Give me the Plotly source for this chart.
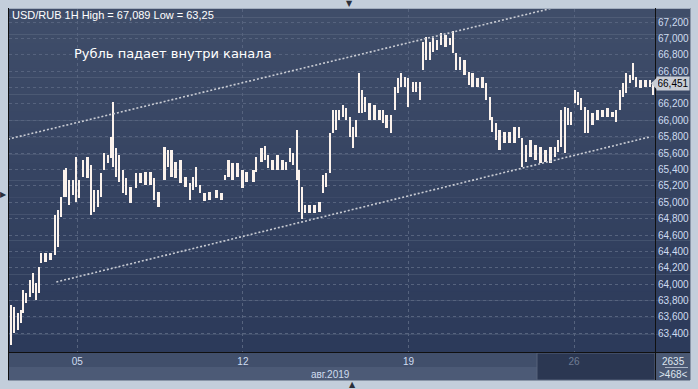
import numpy as np
import plotly.graph_objects as go

# ---------------- data ----------------
# hour index of each sampled group of 1H candles (0 = left edge of view)
hours = [1.8, 4.0, 6.5, 8.7, 10.5, 12.7, 15.6, 17.8, 19.6, 21.7, 23.6, 26.4, 30.1, 33.3, 35.5, 37.7, 39.9, 41.7, 43.8, 46.4,
         48.9, 51.1, 53.6, 56.9, 59.8, 62.0, 64.5, 67.0, 69.2, 71.7, 73.9, 75.7, 77.9, 80.1, 82.6, 85.1, 88.0, 92.0, 95.3, 98.9,
         102.5, 105.4, 108.3, 112.7, 115.2, 117.8, 120.7, 124.3, 127.9, 131.2, 133.7, 135.9, 138.4, 141.7, 145.3, 150.0, 154.0, 156.5, 159.1, 162.0,
         165.6, 169.2, 172.1, 177.2, 179.3, 183.0, 185.5, 188.0, 190.9, 194.6, 198.2, 201.1, 203.6, 206.2, 208.7, 210.5, 212.3, 214.5, 217.8, 221.4,
         225.0, 227.9, 230.1, 232.6, 235.1, 237.0, 239.5, 242.4, 244.6, 247.1, 249.6, 251.4, 254.0, 255.8, 258.0, 261.2, 264.9, 268.5, 271.4, 273.6,
         276.8, 279.7, 282.2, 284.4, 287.0, 289.5, 292.4, 295.3, 297.8, 300.4, 302.5, 305.1, 307.6, 310.5, 313.4, 316.3, 319.6, 322.1, 324.3, 326.8,
         330.1, 333.0, 335.9, 339.5, 343.1, 346.0, 348.6, 350.4, 352.9, 355.4, 359.1, 362.7, 366.3, 369.9, 372.1, 374.3, 377.9, 381.5, 385.1, 388.8,
         392.4, 395.7, 398.2, 400.4, 402.9, 405.4, 407.6, 410.1, 412.7, 414.9, 417.4, 419.9, 422.8, 426.4, 430.1, 433.7, 437.3, 439.9, 442.8, 445.3,
         447.5, 450.0, 452.5, 454.7, 457.6, 461.2, 464.5, 467.0]

highs = [63.742, 63.717, 63.644, 63.681, 63.925, 63.889, 64.047, 64.133, 64.011, 64.206,
         64.377, 64.377, 64.377, 64.842, 64.903, 65.061, 65.391, 65.416, 65.269, 65.269,
         65.550, 65.269, 65.514, 65.550, 65.453, 65.147, 65.147, 65.355, 65.599, 65.575,
         65.795, 66.222, 65.660, 65.575, 65.392, 65.294, 65.184, 65.355, 65.355, 65.367,
         65.367, 65.294, 65.123, 65.673, 65.636, 65.636, 65.489, 65.514, 65.306, 65.233,
         65.306, 65.428, 65.208, 65.110, 65.123, 65.147, 65.110, 65.330, 65.514, 65.477,
         65.477, 65.392, 65.367, 65.392, 65.550, 65.660, 65.685, 65.575, 65.514, 65.575,
         65.514, 65.489, 65.660, 65.599, 65.880, 65.392, 65.184, 64.964, 64.964, 64.964,
         65.000, 65.330, 65.355, 65.844, 66.125, 66.125, 66.125, 66.186, 66.149, 66.039,
         65.917, 66.002, 66.577, 66.369, 66.283, 66.210, 66.186, 66.125, 66.125, 66.064,
         66.064, 66.406, 66.516, 66.577, 66.528, 66.516, 66.467, 66.467, 66.467, 66.956,
         67.017, 66.956, 67.005, 66.980, 67.066, 67.041, 67.005, 67.089, 66.821, 66.772,
         66.736, 66.589, 66.577, 66.516, 66.528, 66.455, 66.283, 66.039, 65.966, 65.880,
         65.856, 65.856, 65.917, 65.917, 65.782, 65.697, 65.758, 65.697, 65.673, 65.636,
         65.673, 65.673, 65.758, 66.125, 66.161, 66.149, 66.100, 66.369, 66.345, 66.271,
         66.161, 66.125, 66.088, 66.125, 66.125, 66.149, 66.100, 66.125, 66.369, 66.455,
         66.577, 66.552, 66.699, 66.528, 66.491, 66.491, 66.491, 66.467]

lows = [63.253, 63.400, 63.436, 63.522, 63.644, 63.766, 63.840, 63.889, 63.803, 63.889,
        64.255, 64.267, 64.292, 64.353, 64.450, 64.817, 65.061, 65.061, 64.964, 65.086,
        65.000, 65.049, 65.306, 65.294, 64.842, 64.878, 64.939, 65.061, 65.391, 65.477,
        65.538, 65.428, 65.306, 65.245, 65.110, 65.086, 64.988, 65.171, 65.233, 65.208,
        65.208, 65.025, 64.939, 65.269, 65.428, 65.306, 65.294, 65.233, 65.184, 65.025,
        65.147, 65.184, 65.110, 65.013, 65.025, 65.049, 65.025, 65.269, 65.306, 65.269,
        65.306, 65.171, 65.245, 65.245, 65.367, 65.489, 65.514, 65.416, 65.392, 65.392,
        65.392, 65.392, 65.489, 65.453, 65.269, 64.878, 64.793, 64.866, 64.866, 64.866,
        64.878, 65.110, 65.184, 65.355, 65.844, 65.880, 66.002, 66.039, 66.002, 65.795,
        65.660, 65.795, 66.088, 66.088, 66.100, 66.002, 66.002, 66.002, 65.966, 65.905,
        65.844, 66.125, 66.332, 66.406, 66.406, 66.161, 66.345, 66.345, 66.247, 66.613,
        66.736, 66.736, 66.833, 66.858, 66.919, 66.895, 66.919, 66.821, 66.613, 66.613,
        66.552, 66.430, 66.406, 66.406, 66.394, 66.247, 66.002, 65.856, 65.758, 65.636,
        65.721, 65.721, 65.721, 65.782, 65.428, 65.489, 65.550, 65.514, 65.477, 65.489,
        65.477, 65.550, 65.611, 65.673, 65.599, 65.941, 65.941, 66.210, 66.186, 66.125,
        65.844, 65.844, 65.941, 66.002, 66.039, 66.039, 66.039, 65.978, 66.125, 66.283,
        66.332, 66.455, 66.491, 66.406, 66.394, 66.406, 66.406, 66.308]

# channel lines (hour, price)
upper_channel_x = [-0.7, 400.0]
upper_channel_y = [65.770, 67.395]
lower_channel_x = [34.3, 464.5]
lower_channel_y = [64.027, 65.798]

day_ticks = [49.5, 169.5, 289.5, 409.5]
day_labels = ["05", "12", "19", "26"]
y_ticks = [round(63.4 + 0.2 * i, 1) for i in range(20)]
last_price = 66.451
title_text = "USD/RUB 1H High = 67,089 Low = 63,25"
note_text = "Рубль падает внутри канала"
month_text = "авг.2019"
bars_total = "2635"
bars_visible = "&gt;468&lt;"

# ---------------- geometry helpers ----------------
W, H = 698, 389
PL, PR, PT, PB = 9, 655, 9, 352
pw, ph = PR - PL, PB - PT
Y0, Y1 = 63.172, 67.359


def px(x):
    return (x - PL) / pw


def py(y):
    return (PB - y) / ph


h = np.array(hours)
hi = np.array(highs)
lo = np.array(lows)
gaps = np.diff(h)
left = np.concatenate([[gaps[0]], gaps])
right = np.concatenate([gaps, [gaps[-1]]])
widths = 0.5 * (left + right) / 2

fig = go.Figure()
fig.add_trace(go.Bar(x=h, y=hi - lo, base=lo, width=widths,
                     marker=dict(color="#fbf2ec", line=dict(width=0)),
                     hoverinfo="skip"))
for cx, cy in [(upper_channel_x, upper_channel_y), (lower_channel_x, lower_channel_y)]:
    fig.add_trace(go.Scatter(x=cx, y=cy, mode="lines",
                             line=dict(color="#c9ccd4", width=1.6, dash="2px,2px"),
                             hoverinfo="skip"))

shapes = []
# gradient background of chart + right scale
n = 40
c_top = np.array([64, 78, 106])
c_bot = np.array([44, 58, 90])
for i in range(n):
    y0 = PT + ph * i / n
    y1 = PT + ph * (i + 1) / n
    c = c_top + (c_bot - c_top) * (i + 0.5) / n
    shapes.append(dict(type="rect", xref="paper", yref="paper", layer="below",
                       x0=px(8), x1=px(690), y0=py(y1), y1=py(y0) + 0.001,
                       fillcolor="rgb(%d,%d,%d)" % tuple(c.astype(int)), line=dict(width=0)))
# bottom bands
shapes.append(dict(type="rect", xref="paper", yref="paper", layer="below",
                   x0=px(8), x1=px(655), y0=py(367), y1=py(352),
                   fillcolor="#414f6b", line=dict(width=0)))
shapes.append(dict(type="rect", xref="paper", yref="paper", layer="below",
                   x0=px(8), x1=px(655), y0=py(380), y1=py(367),
                   fillcolor="#4c5a76", line=dict(width=0)))
shapes.append(dict(type="rect", xref="paper", yref="paper", layer="below",
                   x0=px(537), x1=px(655), y0=py(380), y1=py(353),
                   fillcolor="#2b3752", line=dict(color="#56627a", width=1)))
shapes.append(dict(type="rect", xref="paper", yref="paper", layer="below",
                   x0=px(655), x1=px(690), y0=py(380), y1=py(352),
                   fillcolor="#4a5873", line=dict(width=0)))
# frame lines
for (x0, y0, x1, y1, col) in [(8.5, 8, 8.5, 380, "#101010"), (655.5, 8, 655.5, 380, "#101010"),
                               (8, 352.5, 690, 352.5, "#101010"), (665, 367.5, 688, 367.5, "#aab4c4"),
                               (690.5, 8, 690.5, 380, "#8a96a8"), (8, 380.5, 690, 380.5, "#8a96a8")]:
    shapes.append(dict(type="line", xref="paper", yref="paper", layer="above",
                       x0=px(x0), x1=px(x1), y0=py(y0), y1=py(y1),
                       line=dict(color=col, width=1)))
# price marker arrow
yp = PT + (Y1 - last_price) / (Y1 - Y0) * ph
shapes.append(dict(type="path", xref="paper", yref="paper", layer="above",
                   path="M %f,%f L %f,%f L %f,%f Z" % (px(651), py(yp), px(657), py(yp - 6), px(657), py(yp + 6)),
                   fillcolor="#c8ccd4", line=dict(width=0)))

ann = []
ann.append(dict(text=title_text, xref="paper", yref="paper", x=px(10), y=py(15),
                xanchor="left", yanchor="middle", showarrow=False,
                font=dict(family="Liberation Sans", size=11, color="#ffffff")))
ann.append(dict(text=note_text, xref="paper", yref="paper", x=px(72), y=py(54),
                xanchor="left", yanchor="middle", showarrow=False,
                font=dict(family="DejaVu Sans", size=13, color="#ffffff")))
ann.append(dict(text=month_text, xref="paper", yref="paper", x=px(330), y=py(374),
                xanchor="center", yanchor="middle", showarrow=False,
                font=dict(family="Liberation Sans", size=10, color="#cfdcf0")))
ann.append(dict(text=bars_total, xref="paper", yref="paper", x=px(673), y=py(361),
                xanchor="center", yanchor="middle", showarrow=False,
                font=dict(family="Liberation Sans", size=10, color="#dfe6f0")))
ann.append(dict(text=bars_visible, xref="paper", yref="paper", x=px(673), y=py(374),
                xanchor="center", yanchor="middle", showarrow=False,
                font=dict(family="Liberation Sans", size=10, color="#dfe6f0")))
ann.append(dict(text=f"{last_price:.3f}".replace(".", ","), xref="paper", yref="y",
                x=px(656), y=last_price, xanchor="left", yanchor="middle", showarrow=False,
                bgcolor="#c8ccd4", borderpad=1, width=30,
                font=dict(family="Liberation Sans", size=10, color="#000000")))
for t, x, y in [("▼", 349, 3), ("▲", 352, 385), ("▶", 3, 194)]:
    ann.append(dict(text=t, xref="paper", yref="paper", x=px(x), y=py(y),
                    xanchor="center", yanchor="middle", showarrow=False,
                    font=dict(family="DejaVu Sans", size=8, color="#2a2f3a")))

tick_text = []
for lab, v in zip(day_labels, day_ticks):
    tick_text.append(lab if v < 400 else "<span style='color:#6f7c94'>%s</span>" % lab)

# y tick labels; the one hidden behind the last-price box is left blank
y_text = []
for v in y_ticks:
    s = f"{v:.3f}".replace(".", ",")
    y_text.append("" if abs(v - last_price) < 0.1 else s)

fig.update_layout(
    width=W, height=H,
    margin=dict(l=PL, r=W - PR, t=PT, b=H - PB),
    paper_bgcolor="#c3cedb", plot_bgcolor="rgba(0,0,0,0)",
    showlegend=False, separators=", ", bargap=0,
    shapes=shapes, annotations=ann,
    xaxis=dict(range=[0, pw / 1.38], tickmode="array", tickvals=day_ticks, ticktext=tick_text,
               showgrid=True, gridcolor="#56637e", griddash="3px,3px", gridwidth=1,
               zeroline=False, showline=False, ticks="", ticklabelstandoff=2,
               tickfont=dict(family="Liberation Sans", size=10, color="#cfdcf0")),
    yaxis=dict(range=[Y0, Y1], side="right", tickmode="array", tickvals=y_ticks, ticktext=y_text,
               showgrid=True, gridcolor="#56637e", griddash="3px,3px",
               gridwidth=1, zeroline=False, showline=False, ticks="", ticklabelstandoff=2,
               tickfont=dict(family="Liberation Sans", size=10, color="#cfdcf0")),
)

fig.write_html("out.html")
